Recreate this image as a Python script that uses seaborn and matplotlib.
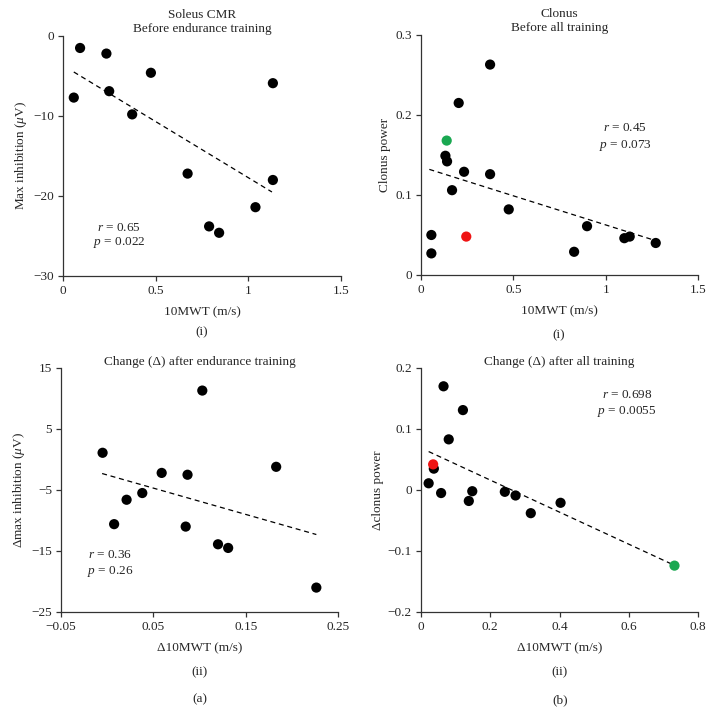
import numpy as np
import pandas as pd
import matplotlib
matplotlib.use('Agg')
import matplotlib.pyplot as plt
from matplotlib.ticker import FuncFormatter
import seaborn as sns

sns.set_style('ticks')
plt.rcParams['font.family'] = ['Liberation Serif', 'DejaVu Serif']
plt.rcParams['mathtext.fontset'] = 'custom'
plt.rcParams['mathtext.rm'] = 'Liberation Serif'
plt.rcParams['mathtext.it'] = 'Liberation Serif:italic'
plt.rcParams['axes.unicode_minus'] = True

# (a)(i) soleus CMR before endurance training
soleus_x = [0.058, 0.092, 0.234, 0.249, 0.373, 0.474, 0.672, 0.788, 0.842, 1.038, 1.132, 1.132]
soleus_y = [-7.7, -1.5, -2.2, -6.9, -9.8, -4.6, -17.2, -23.8, -24.6, -21.4, -18.0, -5.9]
soleus_fit_x = [0.058, 1.127]
soleus_fit_y = [-4.5, -19.5]

# (b)(i) clonus before all training
clonus_x = [0.056, 0.056, 0.132, 0.141, 0.168, 0.204, 0.233, 0.374, 0.374, 0.475,
            0.829, 0.899, 1.101, 1.130, 1.271, 0.139, 0.245]
clonus_y = [0.050, 0.027, 0.149, 0.142, 0.106, 0.215, 0.129, 0.263, 0.126, 0.082,
            0.029, 0.061, 0.046, 0.048, 0.040, 0.168, 0.048]
clonus_grp = ['k'] * 15 + ['g', 'r']
clonus_fit_x = [0.045, 1.256]
clonus_fit_y = [0.132, 0.044]

# (a)(ii) change after endurance training
dsol_x = [-0.005, 0.0075, 0.021, 0.038, 0.059, 0.085, 0.087, 0.103, 0.120, 0.131, 0.183, 0.2265]
dsol_y = [1.1, -10.6, -6.6, -5.5, -2.2, -11.0, -2.5, 11.3, -13.9, -14.5, -1.2, -21.0]
dsol_fit_x = [-0.0055, 0.2265]
dsol_fit_y = [-2.3, -12.3]

# (b)(ii) change after all training
dclon_x = [0.022, 0.037, 0.058, 0.065, 0.080, 0.121, 0.138, 0.148, 0.242, 0.273, 0.317, 0.403,
           0.035, 0.732]
dclon_y = [0.011, 0.035, -0.005, 0.170, 0.083, 0.131, -0.018, -0.002, -0.003, -0.009, -0.038, -0.021,
           0.042, -0.124]
dclon_grp = ['k'] * 12 + ['r', 'g']
dclon_fit_x = [0.022, 0.730]
dclon_fit_y = [0.063, -0.123]

palette = {'k': 'black', 'r': '#ef1414', 'g': '#1aa851'}
fs = 9.5


def fmt(v, pos):
    s = '%g' % round(v, 4)
    return s.replace('-', '\u2212')


def panel(ax, x, y, grp, fx, fy, xlim, xticks, ylim, yticks, xlabel, ylabel, title, pad):
    df = pd.DataFrame({'x': x, 'y': y, 'grp': grp})
    sns.lineplot(x=fx, y=fy, ax=ax, color='black', lw=0.9, linestyle=(0, (4, 3)))
    sns.scatterplot(data=df, x='x', y='y', hue='grp', palette=palette, ax=ax,
                    s=54, linewidth=0, legend=False, zorder=3)
    ax.set_xlim(xlim)
    ax.set_ylim(ylim)
    ax.set_xticks(xticks)
    ax.set_yticks(yticks)
    ax.xaxis.set_major_formatter(FuncFormatter(fmt))
    ax.yaxis.set_major_formatter(FuncFormatter(fmt))
    ax.set_xlabel(xlabel, fontsize=fs, labelpad=7)
    ax.set_ylabel(ylabel, fontsize=fs, labelpad=3)
    ax.set_title(title, fontsize=fs, pad=pad, linespacing=1.15)
    ax.tick_params(labelsize=fs, length=3.5, width=0.9, color='#333333', direction='out', pad=3)
    for sp in ['left', 'bottom']:
        ax.spines[sp].set_color('#333333')
        ax.spines[sp].set_linewidth(0.9)
    sns.despine(ax=ax)
    ax.margins(0)


def stats(ax, xf, yr, yp, rv, pv):
    ax.text(xf, yr, '$r$ = ' + rv, transform=ax.transAxes, ha='center', va='center', fontsize=fs)
    ax.text(xf, yp, '$p$ = ' + pv, transform=ax.transAxes, ha='center', va='center', fontsize=fs)


fig = plt.figure(figsize=(7.13, 7.21), dpi=100)
ax1 = fig.add_axes([0.0884, 0.6172, 0.390, 0.3329])
ax2 = fig.add_axes([0.5905, 0.6186, 0.3885, 0.3329])
ax3 = fig.add_axes([0.0856, 0.1512, 0.3885, 0.3384])
ax4 = fig.add_axes([0.5905, 0.1512, 0.3885, 0.3384])

panel(ax1, soleus_x, soleus_y, ['k'] * len(soleus_x), soleus_fit_x, soleus_fit_y,
      (0, 1.5), [0, 0.5, 1, 1.5], (-30, 0), [-30, -20, -10, 0],
      '10MWT (m/s)', 'Max inhibition ($\\mu$V)', 'Soleus CMR\nBefore endurance training', 3)
stats(ax1, 0.201, 0.20, 0.1375, '0.65', '0.022')

panel(ax2, clonus_x, clonus_y, clonus_grp, clonus_fit_x, clonus_fit_y,
      (0, 1.5), [0, 0.5, 1, 1.5], (0, 0.3), [0, 0.1, 0.2, 0.3],
      '10MWT (m/s)', 'Clonus power', 'Clonus\nBefore all training', 3)
stats(ax2, 0.736, 0.6125, 0.5375, '0.45', '0.073')

panel(ax3, dsol_x, dsol_y, ['k'] * len(dsol_x), dsol_fit_x, dsol_fit_y,
      (-0.05, 0.25), [-0.05, 0.05, 0.15, 0.25], (-25, 15), [-25, -15, -5, 5, 15],
      '\u039410MWT (m/s)', '\u0394max inhibition ($\\mu$V)', 'Change (\u0394) after endurance training', 1)
stats(ax3, 0.177, 0.234, 0.165, '0.36', '0.26')

panel(ax4, dclon_x, dclon_y, dclon_grp, dclon_fit_x, dclon_fit_y,
      (0, 0.8), [0, 0.2, 0.4, 0.6, 0.8], (-0.2, 0.2), [-0.2, -0.1, 0, 0.1, 0.2],
      '\u039410MWT (m/s)', '\u0394clonus power', 'Change (\u0394) after all training', 1)
stats(ax4, 0.743, 0.889, 0.82, '0.698', '0.0055')

W, H = 713, 721
for px, py, s in [(202, 332, '(i)'), (559, 335, '(i)'), (200, 672, '(ii)'), (560, 672, '(ii)'),
                  (200, 699, '(a)'), (560, 700, '(b)')]:
    fig.text(px / W, 1 - py / H, s, ha='center', va='center', fontsize=fs)

fig.savefig('out.png', dpi=100)
